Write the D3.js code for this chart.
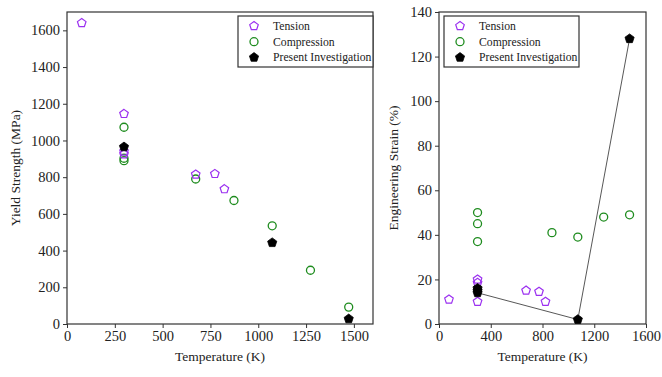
<!DOCTYPE html>
<html>
<head>
<meta charset="utf-8">
<script src="https://cdn.jsdelivr.net/npm/d3@7"></script>
<style>
  body { margin: 0; background: #fff; }
  svg text { font-family: "Liberation Serif", "Times New Roman", serif; }
</style>
</head>
<body>
<svg id="chart" width="662" height="377"></svg>
<script>
// Yield strength data (temperature K, MPa)
const ysTension = [[77, 1640], [298, 1145], [298, 940], [298, 925], [673, 815], [773, 818], [823, 735]];
const ysCompression = [[298, 1072], [298, 903], [298, 890], [673, 790], [873, 673], [1073, 535], [1273, 293], [1473, 92]];
const ysPresent = [[298, 965], [1073, 443], [1473, 28]];

// Engineering strain data (temperature K, %)
const esTension = [[77, 11], [298, 20], [298, 18.5], [298, 10], [673, 15], [773, 14.5], [823, 10]];
const esCompression = [[298, 50], [298, 45], [298, 37], [873, 41], [1073, 39], [1273, 48], [1473, 49]];
const esPresent = [[298, 16], [298, 15], [298, 14], [1073, 2], [1473, 128]];

const ysTicksX = [0, 250, 500, 750, 1000, 1250, 1500];
const ysTicksY = [0, 200, 400, 600, 800, 1000, 1200, 1400, 1600];
const esTicksX = [0, 400, 800, 1200, 1600];
const esTicksY = [0, 20, 40, 60, 80, 100, 120, 140];

const legendLabels = ["Tension", "Compression", "Present Investigation"];

const purple = "#9b30f0";
const green = "#1e8c1e";
const serif = '"Liberation Serif", "Times New Roman", serif';

// pentagon symbol, point up
const pentagon = {
    draw(context, size) {
        const r = Math.sqrt(size / 2.378);
        for (let i = 0; i < 5; i++) {
            const a = -Math.PI / 2 + i * 2 * Math.PI / 5;
            const px = r * Math.cos(a), py = r * Math.sin(a);
            if (i === 0) context.moveTo(px, py); else context.lineTo(px, py);
        }
        context.closePath();
    }
};
const pentPath = d3.symbol().type(pentagon).size(48)();
const pentPathBig = d3.symbol().type(pentagon).size(55)();

const svg = d3.select("#chart");

function panel(opts) {
    const { left, right, top, bottom, xDomain, yDomain, xTicks, yTicks, yLabel, tension, compression, present, connect, legendX } = opts;

    const x = d3.scaleLinear().domain(xDomain).range([left, right]);
    const y = d3.scaleLinear().domain(yDomain).range([bottom, top]);

    const g = svg.append("g");

    // frame
    g.append("rect")
        .attr("x", left).attr("y", top)
        .attr("width", right - left).attr("height", bottom - top)
        .attr("fill", "none").attr("stroke", "#333").attr("stroke-width", 1.2);

    const xAxis = g.append("g")
        .attr("transform", `translate(0,${bottom})`)
        .call(d3.axisBottom(x).tickValues(xTicks).tickSize(4).tickPadding(3).tickFormat(d3.format("d")));
    const yAxis = g.append("g")
        .attr("transform", `translate(${left},0)`)
        .call(d3.axisLeft(y).tickValues(yTicks).tickSize(4).tickPadding(3).tickFormat(d3.format("d")));
    [xAxis, yAxis].forEach(a => {
        a.attr("font-family", null).attr("font-size", null);
        a.select(".domain").remove();
        a.selectAll("line").attr("stroke", "#333");
        a.selectAll("text").attr("fill", "#222")
            .style("font-family", serif).style("font-size", "14.5px");
    });

    g.append("text")
        .attr("x", (left + right) / 2).attr("y", bottom + 37)
        .attr("text-anchor", "middle").attr("fill", "#222")
        .style("font-family", serif).style("font-size", "13.5px")
        .text("Temperature (K)");

    g.append("text")
        .attr("transform", `translate(${opts.yLabelX},${(top + bottom) / 2}) rotate(-90)`)
        .attr("text-anchor", "middle").attr("fill", "#222")
        .style("font-family", serif).style("font-size", "13.5px")
        .text(yLabel);

    if (connect) {
        g.append("path")
            .datum(present)
            .attr("fill", "none").attr("stroke", "#444").attr("stroke-width", 0.9)
            .attr("d", d3.line().x(d => x(d[0])).y(d => y(d[1])));
    }

    g.selectAll(".comp").data(compression).enter().append("circle")
        .attr("cx", d => x(d[0])).attr("cy", d => y(d[1])).attr("r", 4)
        .attr("fill", "none").attr("stroke", green).attr("stroke-width", 1.3);

    g.selectAll(".tens").data(tension).enter().append("path")
        .attr("transform", d => `translate(${x(d[0])},${y(d[1])})`)
        .attr("d", pentPath)
        .attr("fill", "none").attr("stroke", purple).attr("stroke-width", 1.2);

    g.selectAll(".pres").data(present).enter().append("path")
        .attr("transform", d => `translate(${x(d[0])},${y(d[1])})`)
        .attr("d", pentPathBig)
        .attr("fill", "#000").attr("stroke", "#000").attr("stroke-width", 0.8);

    // legend
    const lg = g.append("g").attr("transform", `translate(${legendX},${top + 4})`);
    lg.append("rect")
        .attr("width", 135).attr("height", 51)
        .attr("fill", "#fff").attr("stroke", "#333").attr("stroke-width", 1.2);
    legendLabels.forEach((lab, i) => {
        const cy = 10 + i * 15.7;
        if (i === 0) {
            lg.append("path").attr("transform", `translate(16,${cy})`).attr("d", pentPath)
                .attr("fill", "none").attr("stroke", purple).attr("stroke-width", 1.2);
        } else if (i === 1) {
            lg.append("circle").attr("cx", 16).attr("cy", cy).attr("r", 4)
                .attr("fill", "none").attr("stroke", green).attr("stroke-width", 1.3);
        } else {
            lg.append("path").attr("transform", `translate(16,${cy})`).attr("d", pentPathBig)
                .attr("fill", "#000").attr("stroke", "#000").attr("stroke-width", 0.8);
        }
        lg.append("text").attr("x", 35).attr("y", cy + 4)
            .attr("fill", "#222").style("font-family", serif).style("font-size", "11.7px").text(lab);
    });
}

panel({
    left: 67, right: 373, top: 12, bottom: 324,
    xDomain: [0, 1600], yDomain: [0, 1700],
    xTicks: ysTicksX, yTicks: ysTicksY,
    yLabel: "Yield Strength (MPa)", yLabelX: 20,
    tension: ysTension, compression: ysCompression, present: ysPresent,
    connect: false, legendX: 238
});

panel({
    left: 439, right: 646, top: 12, bottom: 324,
    xDomain: [0, 1600], yDomain: [0, 140],
    xTicks: esTicksX, yTicks: esTicksY,
    yLabel: "Engineering Strain (%)", yLabelX: 398,
    tension: esTension, compression: esCompression, present: esPresent,
    connect: true, legendX: 444
});
</script>
</body>
</html>
